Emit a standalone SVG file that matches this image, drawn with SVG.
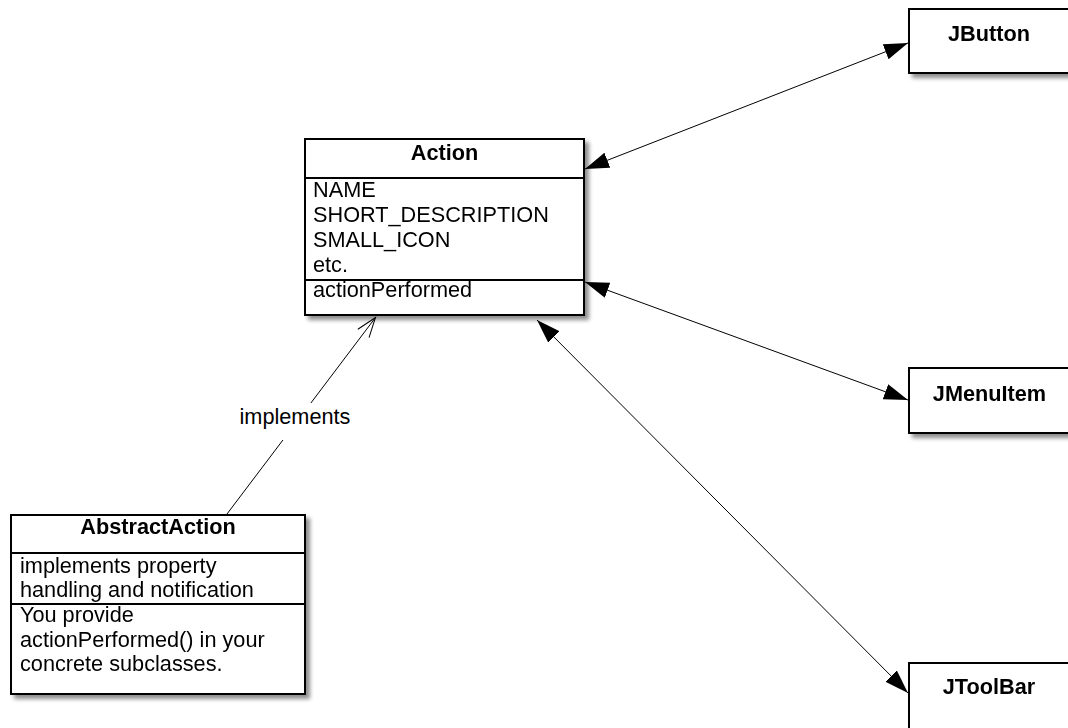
<svg xmlns="http://www.w3.org/2000/svg" width="1068" height="728" viewBox="0 0 1068 728">
<style>
text{font-family:"Liberation Sans",Arial,Helvetica,sans-serif;font-size:21.7px;fill:#000}
.t{font-weight:bold;text-anchor:middle}
.box{fill:#fff;stroke:#000;stroke-width:2}
.sep{stroke:#000;stroke-width:2}
.edge{stroke:#000;stroke-width:1;fill:none}
</style>
<defs>
<filter id="sh" x="-10%" y="-10%" width="130%" height="130%">
<feGaussianBlur in="SourceAlpha" stdDeviation="2"/>
<feOffset dx="4" dy="4" result="b"/>
<feComponentTransfer><feFuncA type="linear" slope="0.45"/></feComponentTransfer>
<feMerge><feMergeNode/><feMergeNode in="SourceGraphic"/></feMerge>
</filter>
<marker id="fa" markerUnits="userSpaceOnUse" markerWidth="26" markerHeight="18" refX="24" refY="8" orient="auto-start-reverse">
<path d="M0,0 L24,8 L0,16 z" fill="#000"/>
</marker>
<marker id="oa" markerUnits="userSpaceOnUse" markerWidth="24" markerHeight="18" refX="21" refY="8" orient="auto">
<path d="M1,1 L21,8 L1,15" fill="none" stroke="#000" stroke-width="1"/>
</marker>
</defs>
<g id="connectors">
<line class="edge" x1="585" y1="169" x2="908" y2="43" marker-start="url(#fa)" marker-end="url(#fa)"/>
<line class="edge" x1="585" y1="282" x2="908" y2="400" marker-start="url(#fa)" marker-end="url(#fa)"/>
<line class="edge" x1="537" y1="320" x2="908" y2="693" marker-start="url(#fa)" marker-end="url(#fa)"/>
<line class="edge" x1="227" y1="514" x2="375.5" y2="317.5" marker-end="url(#oa)"/>
<rect x="235" y="403" width="120" height="37" fill="#fff"/>
<text x="295" y="423.5" text-anchor="middle">implements</text>
</g>
<g id="Action" filter="url(#sh)">
<rect class="box" x="305" y="139" width="279" height="176"/>
<line class="sep" x1="305" y1="178" x2="584" y2="178"/>
<line class="sep" x1="305" y1="280" x2="584" y2="280"/>
<text class="t" x="444.5" y="160">Action</text>
<text x="313" y="196.5">NAME</text>
<text x="313" y="221.5">SHORT_DESCRIPTION</text>
<text x="313" y="247">SMALL_ICON</text>
<text x="313" y="271.5">etc.</text>
<text x="313" y="297">actionPerformed</text>
</g>
<g id="AbstractAction" filter="url(#sh)">
<rect class="box" x="11" y="515" width="294" height="179"/>
<line class="sep" x1="11" y1="553" x2="305" y2="553"/>
<line class="sep" x1="11" y1="604" x2="305" y2="604"/>
<text class="t" x="158" y="533.5">AbstractAction</text>
<text x="20" y="573">implements property</text>
<text x="20" y="597">handling and notification</text>
<text x="20" y="622">You provide</text>
<text x="20" y="647">actionPerformed() in your</text>
<text x="20" y="671">concrete subclasses.</text>
</g>
<g id="JButton" filter="url(#sh)">
<rect class="box" x="909" y="9" width="200" height="64"/>
<text class="t" x="989" y="41">JButton</text>
</g>
<g id="JMenuItem" filter="url(#sh)">
<rect class="box" x="909" y="368" width="200" height="65"/>
<text class="t" x="989.5" y="400.5">JMenuItem</text>
</g>
<g id="JToolBar" filter="url(#sh)">
<rect class="box" x="909" y="663" width="200" height="100"/>
<text class="t" x="989" y="694">JToolBar</text>
</g>
</svg>
